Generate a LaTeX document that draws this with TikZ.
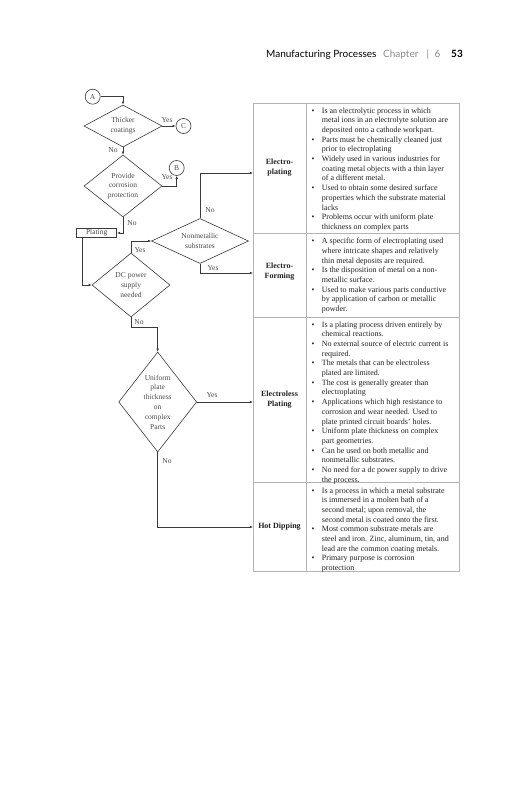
\documentclass[tikz,border=0pt]{standalone}
\usepackage{fontspec}
\setmainfont{Liberation Serif}
\newfontfamily\hdr{Lato}
\usetikzlibrary{shapes.geometric,arrows.meta,calc}
\definecolor{lineg}{HTML}{3A3A3A}
\definecolor{tabg}{HTML}{B4B4B4}
\definecolor{fctext}{HTML}{4A4A4A}
\definecolor{tabtext}{HTML}{222222}
\definecolor{hdgray}{HTML}{8A8A8A}
\newcommand\bi{\makebox[10.2pt][l]{\textbullet}}
\newcommand\ci{\hspace*{10.2pt}}
\newcommand\rowtext[1]{\parbox[t]{150pt}{\fontsize{8}{9.7}\selectfont\color{tabtext}#1}}
\begin{document}
\begin{tikzpicture}[x=1pt,y=-1pt,
  conn/.style={draw=lineg,line width=0.6pt,-{Latex[length=3.2pt,width=2.6pt]}},
  dia/.style={diamond,draw=lineg,line width=0.6pt,inner sep=0pt,align=center,
     font=\fontsize{7.5}{9.8}\selectfont,text=fctext},
  circ/.style={circle,draw=lineg,line width=0.6pt,minimum size=15pt,inner sep=0pt,
     font=\fontsize{7.5}{9}\selectfont,text=fctext},
  lab/.style={font=\fontsize{7.5}{9}\selectfont,text=fctext,inner sep=0pt},
  tab/.style={draw=tabg,line width=0.6pt},
  rowlab/.style={font=\fontsize{8}{9.9}\selectfont\bfseries,text=tabtext,align=center,inner sep=0pt},
  rowtxt/.style={anchor=base west,inner sep=0pt},
  hd/.style={anchor=base west,inner sep=0pt,font=\hdr\fontsize{10}{12}\selectfont}]
\useasboundingbox[fill=white] (0,0) rectangle (531,800);

% header
\node[hd] (h1) at (266,57) {Manufacturing Processes};
\node[hd,text=hdgray] (h2) at (383,57) {Chapter};
\node[hd,text=hdgray] (h3) at (426.5,57) {|};
\node[hd,text=hdgray] (h4) at (434.5,57) {6};
\node[hd,font=\hdr\fontsize{10}{12}\selectfont\bfseries] (h5) at (451,57) {53};

% table
\draw[tab] (253,103) rectangle (459,571);
\draw[tab] (306,103) -- (306,571);
\draw[tab] (253,233) -- (459,233);
\draw[tab] (253,317) -- (459,317);
\draw[tab] (253,482) -- (459,482);
\coordinate (r1) at (253,173);
\coordinate (r2) at (253,273);
\coordinate (r3) at (253,402);
\coordinate (r4) at (253,527);

\node[rowlab] (l1) at (279.5,168) {Electro-\\plating};
\node[rowlab] (l2) at (279.5,272) {Electro-\\Forming};
\node[rowlab] (l3) at (279.5,400) {Electroless\\Plating};
\node[rowlab] (l4) at (279.5,527) {Hot Dipping};

\node[rowtxt] (t1) at (311.5,107.5) {\rowtext{%
\bi Is an electrolytic process in which\\
\ci metal ions in an electrolyte solution are\\
\ci deposited onto a cathode workpart.\\
\bi Parts must be chemically cleaned just\\
\ci prior to electroplating\\
\bi Widely used in various industries for\\
\ci coating metal objects with a thin layer\\
\ci of a different metal.\\
\bi Used to obtain some desired surface\\
\ci properties which the substrate material\\
\ci lacks\\
\bi Problems occur with uniform plate\\
\ci thickness on complex parts}};

\node[rowtxt] (t2) at (311.5,238) {\rowtext{%
\bi A specific form of electroplating used\\
\ci where intricate shapes and relatively\\
\ci thin metal deposits are required.\\
\bi Is the disposition of metal on a non-\\
\ci metallic surface.\\
\bi Used to make various parts conductive\\
\ci by application of carbon or metallic\\
\ci powder.}};

\node[rowtxt] (t3) at (311.5,321.5) {\rowtext{%
\bi Is a plating process driven entirely by\\
\ci chemical reactions.\\
\bi No external source of electric current is\\
\ci required.\\
\bi The metals that can be electroless\\
\ci plated are limited.\\
\bi The cost is generally greater than\\
\ci electroplating\\
\bi Applications which high resistance to\\
\ci corrosion and wear needed. Used to\\
\ci plate printed circuit boards' holes.\\
\bi Uniform plate thickness on complex\\
\ci part geometries.\\
\bi Can be used on both metallic and\\
\ci nonmetallic substrates.\\
\bi No need for a dc power supply to drive\\
\ci the process.}};

\node[rowtxt] (t4) at (311.5,487.5) {\rowtext{%
\bi Is a process in which a metal substrate\\
\ci is immersed in a molten bath of a\\
\ci second metal; upon removal, the\\
\ci second metal is coated onto the first.\\
\bi Most common substrate metals are\\
\ci steel and iron. Zinc, aluminum, tin, and\\
\ci lead are the common coating metals.\\
\bi Primary purpose is corrosion\\
\ci protection}};

% flowchart
\node[circ] (A) at (92.7,96.7) {A};
\node[dia,minimum width=78pt,minimum height=42pt,aspect=1.86] (thick) at (123,126) {Thicker\\coatings};
\node[circ] (C) at (183.5,126) {C};
\node[dia,minimum width=78pt,minimum height=62pt,aspect=1.26] (prov) at (123,186) {Provide\\corrosion\\protection};
\node[circ] (B) at (176.7,168) {B};
\node[draw=lineg,line width=0.6pt,minimum width=40pt,minimum height=8.5pt,inner sep=0pt,
  font=\fontsize{7.5}{9}\selectfont,text=fctext] (plat) at (96.7,233) {Plating};
\node[dia,minimum width=78pt,minimum height=64pt,aspect=1.22] (dc) at (131,285) {DC power\\supply\\needed};
\node[dia,minimum width=97pt,minimum height=45pt,aspect=2.16] (nonm) at (200,241) {Nonmetallic\\substrates};
\node[dia,minimum width=78pt,minimum height=100pt,aspect=0.78] (unif) at (157.7,402) {Uniform\\plate\\thickness\\on\\complex\\Parts};

\draw[conn] (A.east) -| (thick.north);
\draw[conn] (thick.east) -- (C.west);
\draw[conn] (thick.south) -- (prov.north);
\draw[conn] (prov.east) -| (B.south);
\draw[conn] (prov.south) |- (plat.east);
\draw[conn] ($(plat.south west)+(6,0)$) |- (dc.west);
\draw[conn] (dc.north) |- (nonm.west);
\draw[conn] (nonm.north) |- (r1);
\draw[conn] (nonm.south) |- (r2);
\draw[conn] (dc.south) -- ++(0,10) -| (unif.north);
\draw[conn] (unif.east) -- (r3);
\draw[conn] (unif.south) |- (r4);

\node[lab] (y1) at (167,120) {Yes};
\node[lab] (n1) at (113,150) {No};
\node[lab] (y2) at (167,177) {Yes};
\node[lab] (n2) at (132,223) {No};
\node[lab] (y3) at (140,250) {Yes};
\node[lab] (n3) at (210,210) {No};
\node[lab] (y4) at (213,268) {Yes};
\node[lab] (n4) at (139,322) {No};
\node[lab] (y5) at (212,395) {Yes};
\node[lab] (n5) at (167,461) {No};
\end{tikzpicture}
\end{document}
